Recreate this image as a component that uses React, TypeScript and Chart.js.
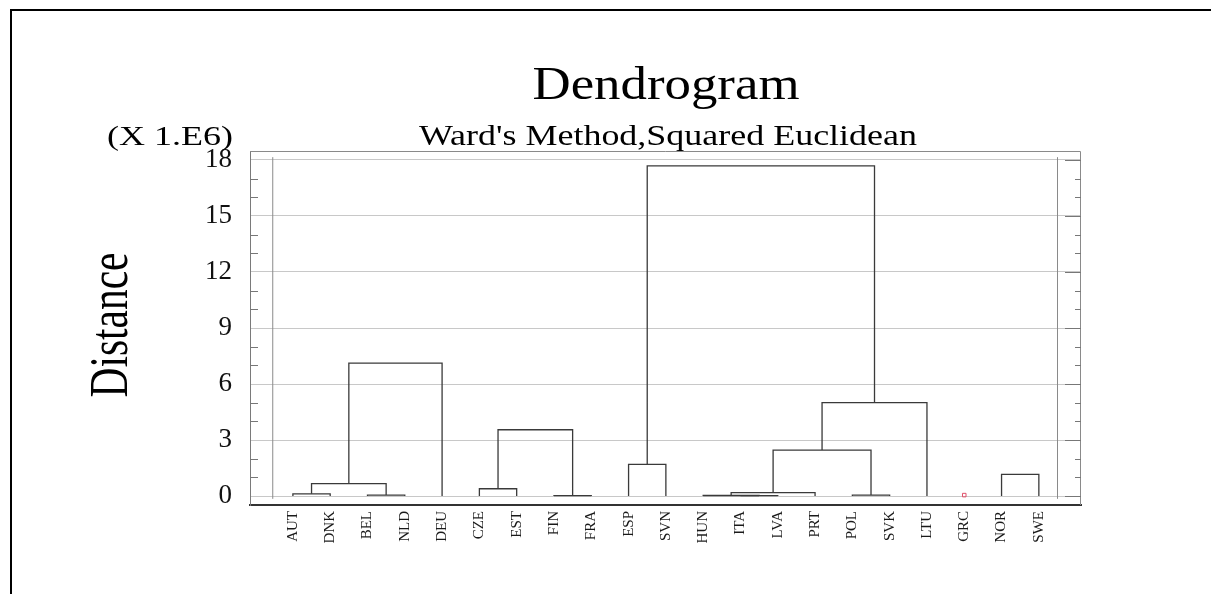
import React, { useEffect, useRef } from "react";
import { Chart, registerables } from "chart.js";

Chart.register(...registerables);

// Leaf order along the x axis
const leafLabels = [
  "AUT", "DNK", "BEL", "NLD", "DEU", "CZE", "EST", "FIN", "FRA", "ESP", "SVN",
  "HUN", "ITA", "LVA", "PRT", "POL", "SVK", "LTU", "GRC", "NOR", "SWE",
];

// Merges: children are node indices (0..20 leaves, 21+k = k-th merge)
const mergeLeft = [12, 11, 7, 2, 15, 0, 22, 5, 26, 19, 9, 27, 28, 32, 29, 31];
const mergeRight = [13, 21, 8, 3, 16, 1, 14, 6, 24, 20, 10, 25, 23, 17, 4, 34];
const mergeHeight = [0.02, 0.03, 0.02, 0.05, 0.05, 0.12, 0.18, 0.39, 0.66, 1.16, 1.7, 2.46, 3.55, 5.0, 7.12, 17.68];

// Isolated marker
const markerLeaf = ["GRC"];
const markerValue = [0.05];

// Y axis tick labels (x 1.E6)
const yTicks = [0, 3, 6, 9, 12, 15, 18];

const FONT = '"Liberation Serif", "Times New Roman", serif';

function drawStretched(
  ctx: CanvasRenderingContext2D,
  text: string,
  size: number,
  cx: number,
  cy: number,
  targetWidth: number,
  rotated: boolean
) {
  ctx.save();
  ctx.font = `${size}px ${FONT}`;
  const w = ctx.measureText(text).width;
  ctx.translate(cx, cy);
  if (rotated) ctx.rotate(-Math.PI / 2);
  ctx.scale(targetWidth / w, 1);
  ctx.fillStyle = "#000";
  ctx.textAlign = "center";
  ctx.textBaseline = "alphabetic";
  ctx.fillText(text, 0, 0);
  ctx.restore();
}

const decorPlugin = {
  id: "decor",
  beforeDraw(chart: any) {
    const ctx = chart.ctx;
    ctx.save();
    ctx.fillStyle = "#fff";
    ctx.fillRect(0, 0, chart.width, chart.height);
    ctx.restore();
  },
  afterDraw(chart: any) {
    const { ctx, chartArea: a, scales } = chart;
    const ys = scales.y;
    ctx.save();
    // outer frame (top & left)
    ctx.strokeStyle = "#000";
    ctx.lineWidth = 2;
    ctx.beginPath();
    ctx.moveTo(11, chart.height);
    ctx.lineTo(11, 10);
    ctx.lineTo(chart.width, 10);
    ctx.stroke();
    // plot box top & right
    ctx.strokeStyle = "#8a8a8a";
    ctx.lineWidth = 1;
    ctx.beginPath();
    ctx.moveTo(a.left, a.top + 0.5);
    ctx.lineTo(a.right - 0.5, a.top + 0.5);
    ctx.lineTo(a.right - 0.5, a.bottom);
    ctx.stroke();
    // minor / major ticks inside the box
    ctx.strokeStyle = "#777";
    ctx.beginPath();
    for (let v = 0; v <= 18; v++) {
      const py = Math.round(ys.getPixelForValue(v)) + 0.5;
      if (v % 3 !== 0) {
        ctx.moveTo(a.left, py);
        ctx.lineTo(a.left + 8, py);
        ctx.moveTo(a.right, py);
        ctx.lineTo(a.right - 6, py);
      } else {
        ctx.moveTo(a.right, py);
        ctx.lineTo(a.right - 16, py);
      }
    }
    ctx.stroke();
    ctx.restore();

    drawStretched(ctx, "Dendrogram", 47, 666, 99, 267, false);
    drawStretched(ctx, "Ward's Method,Squared Euclidean", 30, 668, 145, 498, false);
    drawStretched(ctx, "(X 1.E6)", 28, 170, 145, 126, false);
    drawStretched(ctx, "Distance", 54, 127, 325, 145, true);
  },
};

export default function App() {
  const ref = useRef<HTMLCanvasElement | null>(null);

  useEffect(() => {
    document.body.style.margin = "0";
    if (!ref.current) return;

    const nodeX: number[] = leafLabels.map((_, i) => i + 1);
    const nodeH: number[] = leafLabels.map(() => 0);
    mergeLeft.forEach((l, k) => {
      const r = mergeRight[k];
      nodeX.push((nodeX[l] + nodeX[r]) / 2);
      nodeH.push(mergeHeight[k]);
    });

    const linkSets = mergeLeft.map((l, k) => {
      const r = mergeRight[k];
      const h = mergeHeight[k];
      return {
        type: "scatter" as const,
        data: [
          { x: nodeX[l], y: nodeH[l] },
          { x: nodeX[l], y: h },
          { x: nodeX[r], y: h },
          { x: nodeX[r], y: nodeH[r] },
        ],
        showLine: true,
        borderColor: "#3a3a3a",
        borderWidth: 1.3,
        pointRadius: 0,
        fill: false,
        tension: 0,
      };
    });

    const innerLines = [0.46, 21.5].map((xv) => ({
      type: "scatter" as const,
      data: [
        { x: xv, y: -0.15 },
        { x: xv, y: 18.15 },
      ],
      showLine: true,
      borderColor: "#8a8a8a",
      borderWidth: 1,
      pointRadius: 0,
      fill: false,
    }));

    const markerSet = {
      type: "scatter" as const,
      data: markerLeaf.map((lab, i) => ({ x: leafLabels.indexOf(lab) + 1, y: markerValue[i] })),
      showLine: false,
      pointStyle: "rect" as const,
      pointRadius: 2.5,
      borderColor: "#e0506a",
      backgroundColor: "rgba(0,0,0,0)",
      borderWidth: 1,
    };

    const chart = new Chart(ref.current, {
      type: "scatter",
      data: { datasets: [...innerLines, ...linkSets, markerSet] as any },
      options: {
        animation: false,
        responsive: true,
        maintainAspectRatio: false,
        layout: { padding: { left: 0, right: 130, top: 151, bottom: 0 } },
        plugins: {
          legend: { display: false },
          tooltip: { enabled: false },
          title: { display: false },
        },
        scales: {
          x: {
            type: "linear",
            min: -0.15,
            max: 22.13,
            afterBuildTicks: (s: any) => {
              s.ticks = leafLabels.map((_, i) => ({ value: i + 1 }));
            },
            afterFit: (s: any) => {
              s.height = 89;
            },
            ticks: {
              autoSkip: false,
              maxRotation: 90,
              minRotation: 90,
              padding: 6,
              color: "#1a1a1a",
              font: { family: FONT, size: 15 },
              callback: (v: any) => leafLabels[Math.round(Number(v)) - 1] ?? "",
            },
            grid: { display: false, drawTicks: false },
            border: { display: true, color: "#333", width: 2 },
          },
          y: {
            type: "linear",
            min: -0.48,
            max: 18.48,
            afterBuildTicks: (s: any) => {
              s.ticks = yTicks.map((v) => ({ value: v }));
            },
            afterFit: (s: any) => {
              s.width = 250;
            },
            ticks: {
              padding: 18,
              color: "#111",
              font: { family: FONT, size: 27 },
              callback: (v: any) => String(v),
            },
            grid: { color: "#c8c8c8", lineWidth: 1, drawTicks: false },
            border: { display: true, color: "#7a7a7a", width: 1 },
          },
        },
      },
      plugins: [decorPlugin],
    });

    return () => chart.destroy();
  }, []);

  return (
    <div style={{ position: "relative", width: 1211, height: 594 }}>
      <canvas ref={ref} />
    </div>
  );
}
